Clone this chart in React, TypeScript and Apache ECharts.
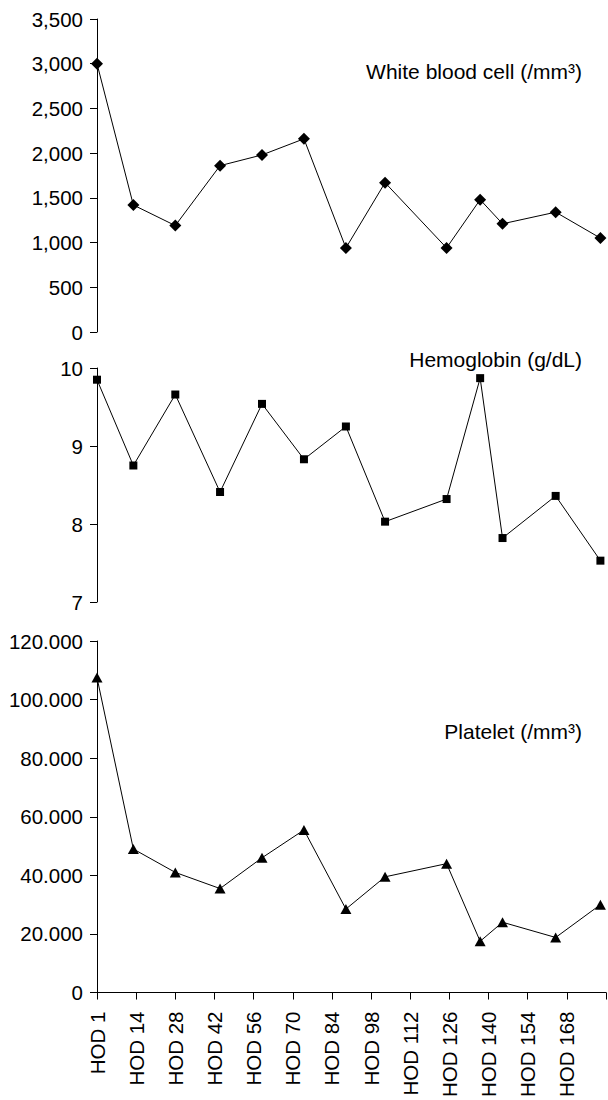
import React, { useEffect, useRef } from "react";
import * as echarts from "echarts";

// Position of each measurement on the shared HOD axis (axis units, HOD 1 at 0)
const hodPos = [0, 13, 28, 44, 59, 74, 89, 103, 125, 137, 145, 164, 180];
const hodTickLabels = [
  "HOD 1", "HOD 14", "HOD 28", "HOD 42", "HOD 56", "HOD 70", "HOD 84",
  "HOD 98", "HOD 112", "HOD 126", "HOD 140", "HOD 154", "HOD 168",
];
const wbc = [3000, 1420, 1190, 1860, 1980, 2160, 940, 1670, 940, 1480, 1210, 1340, 1050];
const hemoglobin = [9.85, 8.75, 9.66, 8.41, 9.54, 8.83, 9.25, 8.03, 8.32, 9.87, 7.82, 8.36, 7.53];
const platelet = [107500, 49000, 41000, 35500, 46000, 55500, 28500, 39500, 44000, 17500, 24000, 18800, 30000];
const panelTitles = ["White blood cell (/mm³)", "Hemoglobin (g/dL)", "Platelet (/mm³)"];

const FONT = "'Liberation Sans', Arial, sans-serif";

export default function App() {
  const ref = useRef<HTMLDivElement>(null);
  useEffect(() => {
    document.body.style.margin = "0";
    if (!ref.current) return;
    const chart = echarts.init(ref.current, null, { renderer: "svg" });
    const pair = (vals: number[]) => vals.map((v, i) => [hodPos[i], v]);
    const yCommon = {
      type: "value" as const,
      axisLine: { show: true, lineStyle: { color: "#000", width: 1 } },
      axisTick: { show: true, length: 7, lineStyle: { color: "#000" } },
      splitLine: { show: false },
      axisLabel: { color: "#000", fontSize: 20.5, fontFamily: FONT, margin: 14 },
    };
    const xCommon = {
      type: "value" as const,
      min: 0,
      max: 182,
      interval: 14,
      splitLine: { show: false },
    };
    const lineSeries = (idx: number, data: number[][], symbol: string, size: any) => ({
      type: "line",
      xAxisIndex: idx,
      yAxisIndex: idx,
      data,
      symbol,
      symbolSize: size,
      showSymbol: true,
      lineStyle: { color: "#000", width: 1 },
      itemStyle: { color: "#000" },
      z: 3,
    });
    chart.setOption({
      animation: false,
      backgroundColor: "#fff",
      textStyle: { fontFamily: FONT },
      title: [
        { text: panelTitles[0], right: 21, top: 56 },
        { text: panelTitles[1], right: 21, top: 344 },
        { text: panelTitles[2], right: 21, top: 716 },
      ].map((t) => ({
        ...t,
        textStyle: { fontSize: 21, fontWeight: "normal", color: "#000", fontFamily: FONT },
      })),
      grid: [
        { left: 97, right: 2, top: 19, height: 313 },
        { left: 97, right: 2, top: 368, height: 234 },
        { left: 97, right: 2, top: 641, height: 352 },
      ],
      xAxis: [
        { ...xCommon, gridIndex: 0, show: false },
        { ...xCommon, gridIndex: 1, show: false },
        {
          ...xCommon,
          gridIndex: 2,
          axisLine: { show: true, lineStyle: { color: "#000", width: 1 } },
          axisTick: { show: true, length: 7, lineStyle: { color: "#000" } },
          axisLabel: {
            rotate: 90,
            margin: 19,
            color: "#000",
            fontSize: 20.5,
            fontFamily: FONT,
            showMaxLabel: true,
            formatter: (v: number) => hodTickLabels[Math.round(v / 14)] ?? "",
          },
        },
      ],
      yAxis: [
        {
          ...yCommon,
          gridIndex: 0,
          min: 0,
          max: 3500,
          interval: 500,
          axisLabel: { ...yCommon.axisLabel, formatter: (v: number) => v.toLocaleString("en-US") },
        },
        { ...yCommon, gridIndex: 1, min: 7, max: 10, interval: 1 },
        {
          ...yCommon,
          gridIndex: 2,
          min: 0,
          max: 120000,
          interval: 20000,
          axisLabel: {
            ...yCommon.axisLabel,
            formatter: (v: number) => v.toLocaleString("en-US").replace(/,/g, "."),
          },
        },
      ],
      series: [
        lineSeries(0, pair(wbc), "diamond", 12),
        lineSeries(1, pair(hemoglobin), "rect", 8),
        lineSeries(2, pair(platelet), "triangle", [11, 10]),
      ],
    });
    return () => chart.dispose();
  }, []);
  return <div ref={ref} style={{ width: 608, height: 1100 }} />;
}
